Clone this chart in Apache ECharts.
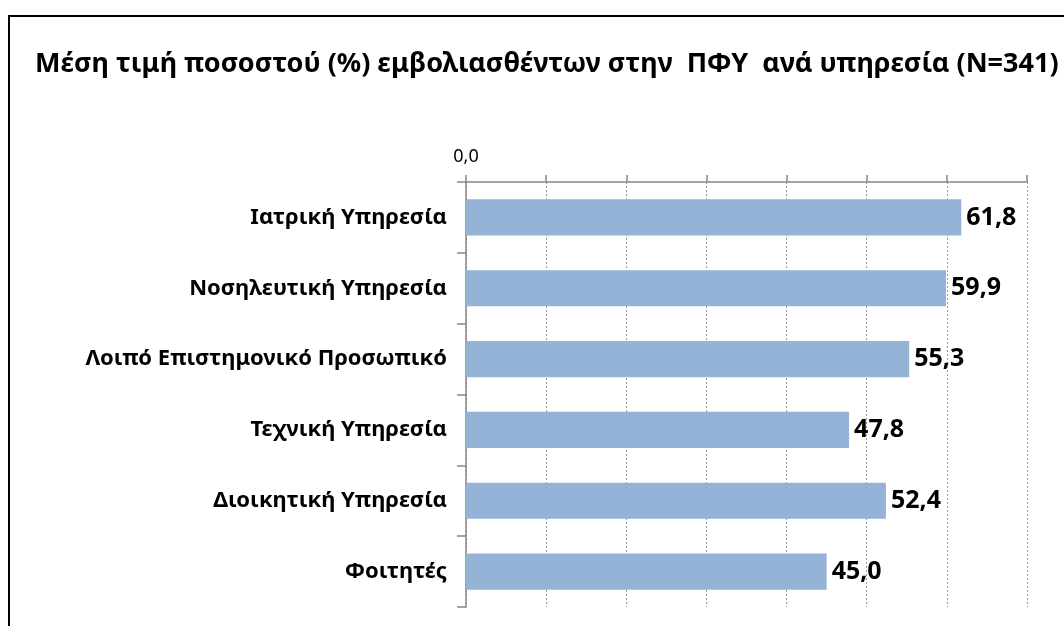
<!DOCTYPE html>
<html>
<head>
<meta charset="utf-8">
<script src="https://cdn.jsdelivr.net/npm/echarts@6/dist/echarts.min.js"></script>
<style>
html,body{margin:0;padding:0;background:#fff;}
#chart{width:1064px;height:626px;}
</style>
</head>
<body>
<div id="chart"></div>
<script>
const titleText = 'Μέση τιμή ποσοστού (%) εμβολιασθέντων στην  ΠΦΥ  ανά υπηρεσία (N=341)';
const categories = ['Ιατρική Υπηρεσία', 'Νοσηλευτική Υπηρεσία', 'Λοιπό Επιστημονικό Προσωπικό', 'Τεχνική Υπηρεσία', 'Διοικητική Υπηρεσία', 'Φοιτητές'];
const values = [61.8, 59.9, 55.3, 47.8, 52.4, 45.0];
const axisMin = 0, axisMax = 70, axisStep = 10;

const FONT = '"Noto Sans", sans-serif';
const chart = echarts.init(document.getElementById('chart'));
chart.setOption({
  animation: false,
  backgroundColor: '#fff',
  title: {
    text: titleText,
    left: 30, top: 46,
    textStyle: {fontFamily: FONT, fontWeight: 'bold', fontSize: 27, color: '#000'}
  },
  graphic: [{
    type: 'rect', shape: {x: 9, y: 16, width: 1200, height: 800},
    style: {fill: null, stroke: '#000', lineWidth: 2}, silent: true
  }],
  grid: {left: 466, top: 182, right: 37, bottom: 19, containLabel: false},
  xAxis: {
    type: 'value', position: 'top', min: axisMin, max: axisMax, interval: axisStep,
    axisLine: {show: true, lineStyle: {color: '#868686', width: 1.5}},
    axisTick: {show: true, length: 7, lineStyle: {color: '#868686', width: 1.5}},
    axisLabel: {
      margin: 16, fontFamily: FONT, fontSize: 18, color: '#000',
      formatter: v => v === 0 ? v.toFixed(1).replace('.', ',') : ''
    },
    splitLine: {show: true, lineStyle: {color: '#9a9a9a', type: [2, 2], width: 1}}
  },
  yAxis: {
    type: 'category', inverse: true, data: categories,
    axisLine: {show: true, lineStyle: {color: '#868686', width: 1.5}},
    axisTick: {show: true, length: 9, lineStyle: {color: '#868686', width: 1.5}},
    axisLabel: {margin: 19, fontFamily: FONT, fontWeight: 'bold', fontSize: 22, color: '#000'}
  },
  series: [{
    type: 'bar', data: values, barWidth: '51%',
    itemStyle: {color: '#95b3d7'},
    label: {
      show: true, position: 'right', distance: 5,
      fontFamily: FONT, fontWeight: 'bold', fontSize: 25, color: '#000',
      formatter: p => p.value.toFixed(1).replace('.', ',')
    }
  }]
});
</script>
</body>
</html>
